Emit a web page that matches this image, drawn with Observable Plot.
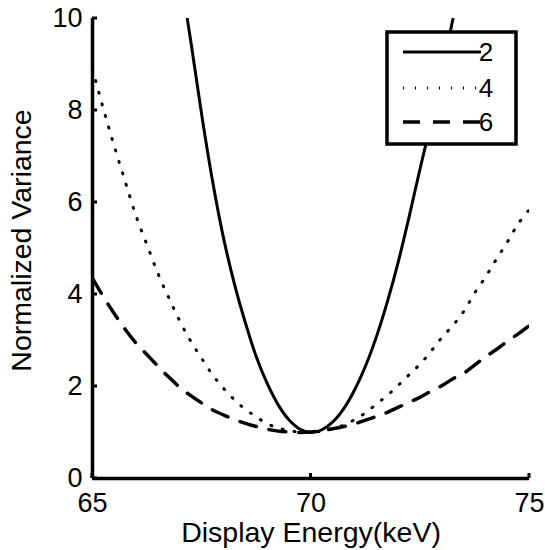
<!DOCTYPE html>
<html>
<head>
<meta charset="utf-8">
<script src="https://cdn.jsdelivr.net/npm/d3@7"></script>
<script src="https://cdn.jsdelivr.net/npm/@observablehq/plot@0.6"></script>
<style>
  html, body { margin: 0; padding: 0; background: #fff; }
  #chart { width: 545px; height: 550px; }
  svg { font-family: "Liberation Sans", Arial, Helvetica, sans-serif; }
</style>
</head>
<body>
<div id="chart"></div>
<script>
// ---- data ----
const seriesNames = ["2", "4", "6"];

const energySolid = [67.0, 67.25, 67.5, 67.75, 68.0, 68.25, 68.5, 68.75, 69.0, 69.25, 69.5, 69.75, 70.0,
  70.25, 70.5, 70.75, 71.0, 71.25, 71.5, 71.75, 72.0, 72.25, 72.5, 72.75, 73.0, 73.25, 73.5];
const variance2 = [11.0, 9.5, 7.9, 6.45, 5.22, 4.22, 3.38, 2.64, 2.06, 1.6, 1.27, 1.07, 1.0,
  1.06, 1.23, 1.52, 1.93, 2.45, 3.09, 3.85, 4.72, 5.71, 6.75, 7.75, 8.85, 10.0, 11.2];

const energy = [65.0, 65.25, 65.5, 65.75, 66.0, 66.25, 66.5, 66.75, 67.0, 67.25, 67.5, 67.75, 68.0,
  68.25, 68.5, 68.75, 69.0, 69.25, 69.5, 69.75, 70.0, 70.25, 70.5, 70.75, 71.0, 71.25, 71.5,
  71.75, 72.0, 72.25, 72.5, 72.75, 73.0, 73.25, 73.5, 73.75, 74.0, 74.25, 74.5, 74.75, 75.0];
const variance4 = [8.9, 8.03, 7.22, 6.45, 5.7, 5.07, 4.45, 3.92, 3.42, 2.98, 2.61, 2.25, 1.96,
  1.71, 1.5, 1.34, 1.19, 1.1, 1.04, 1.01, 1.0, 1.03, 1.09, 1.16, 1.28, 1.43, 1.62,
  1.81, 2.03, 2.26, 2.49, 2.77, 3.07, 3.33, 3.64, 4.04, 4.39, 4.78, 5.15, 5.55, 5.85];
const variance6 = [4.35, 3.95, 3.58, 3.24, 2.94, 2.69, 2.44, 2.2, 1.98, 1.8, 1.64, 1.49, 1.38,
  1.28, 1.2, 1.13, 1.07, 1.03, 1.01, 1.0, 1.01, 1.04, 1.08, 1.13, 1.19, 1.27, 1.35,
  1.44, 1.55, 1.66, 1.77, 1.9, 2.02, 2.17, 2.29, 2.47, 2.65, 2.81, 2.99, 3.15, 3.33];

const xTicks = [65, 70, 75];
const yTicks = [0, 2, 4, 6, 8, 10];
const xLabel = "Display Energy(keV)";
const yLabel = "Normalized Variance";

// ---- tables ----
const d2 = energySolid.map((e, i) => ({e, v: variance2[i]}));
const d4 = energy.map((e, i) => ({e, v: variance4[i]}));
const d6 = energy.map((e, i) => ({e, v: variance6[i]}));

const styles = {
  "2": {strokeWidth: 3, strokeDasharray: null},
  "4": {strokeWidth: 3, strokeDasharray: "1,11"},
  "6": {strokeWidth: 3.5, strokeDasharray: "17,13"}
};

const W = 545, H = 550;
const mL = 92, mR = 16, mT = 18, mB = 72;

const chart = Plot.plot({
  width: W,
  height: H,
  marginLeft: mL,
  marginRight: mR,
  marginTop: mT,
  marginBottom: mB,
  style: {fontFamily: "'Liberation Sans', Arial, Helvetica, sans-serif", fontSize: "27px", color: "#000", background: "#fff", overflow: "visible"},
  x: {type: "linear", domain: [65, 75]},
  y: {type: "linear", domain: [0, 10]},
  marks: [
    Plot.line(d4, {x: "e", y: "v", stroke: "#000", strokeWidth: styles["4"].strokeWidth,
      strokeDasharray: styles["4"].strokeDasharray, curve: "catmull-rom", clip: true}),
    Plot.line(d6, {x: "e", y: "v", stroke: "#000", strokeWidth: styles["6"].strokeWidth,
      strokeDasharray: styles["6"].strokeDasharray, curve: "catmull-rom", clip: true}),
    Plot.line(d2, {x: "e", y: "v", stroke: "#000", strokeWidth: styles["2"].strokeWidth,
      curve: "catmull-rom", clip: true}),
    // axis lines
    Plot.ruleX([65], {stroke: "#000", strokeWidth: 3.5}),
    Plot.ruleY([0], {stroke: "#000", strokeWidth: 3.5}),
    Plot.axisX({ticks: xTicks, tickSize: 0, tickPadding: 14, fontSize: 27,
      tickFormat: d => String(d), label: null}),
    Plot.axisY({ticks: yTicks, tickSize: 0, tickPadding: 10, fontSize: 27,
      tickFormat: d => String(d), label: null}),
    // axis titles
    Plot.text([xLabel], {frameAnchor: "bottom", dy: 63, lineAnchor: "bottom", fontSize: 28.5, fill: "#000"}),
    Plot.text([yLabel], {frameAnchor: "left", textAnchor: "middle", dx: -62, dy: -8, rotate: -90,
      lineAnchor: "bottom", fontSize: 28.5, fill: "#000"})
  ]
});

document.getElementById("chart").appendChild(chart);

// inward tick nubs on axes (drawn with the chart scales)
const svg = d3.select(chart);
const sx = chart.scale("x"), sy = chart.scale("y");
const nub = svg.append("g").attr("stroke", "#000").attr("stroke-width", 3);
xTicks.forEach(t => {
  const px = sx.apply(t);
  nub.append("line").attr("x1", px).attr("x2", px).attr("y1", sy.apply(0)).attr("y2", sy.apply(0) - 5);
});
yTicks.forEach(t => {
  const py = sy.apply(t);
  nub.append("line").attr("x1", sx.apply(65)).attr("x2", sx.apply(65) + 5).attr("y1", py).attr("y2", py);
});

// legend box (top-right)
const lg = svg.append("g").attr("class", "legend");
const bx = 387, by = 32, bw = 129, bh = 112;
lg.append("rect").attr("x", bx).attr("y", by).attr("width", bw).attr("height", bh)
  .attr("fill", "#fff").attr("stroke", "#000").attr("stroke-width", 3.5);
const rowsY = [52, 88, 122];
seriesNames.forEach((name, i) => {
  const st = styles[name];
  lg.append("line").attr("x1", 403).attr("x2", 481).attr("y1", rowsY[i]).attr("y2", rowsY[i])
    .attr("stroke", "#000").attr("stroke-width", st.strokeWidth)
    .attr("stroke-dasharray", st.strokeDasharray);
  lg.append("text").attr("x", 486).attr("y", rowsY[i]).attr("dy", "0.36em")
    .attr("font-size", 26).attr("fill", "#000").text(name);
});
</script>
</body>
</html>
